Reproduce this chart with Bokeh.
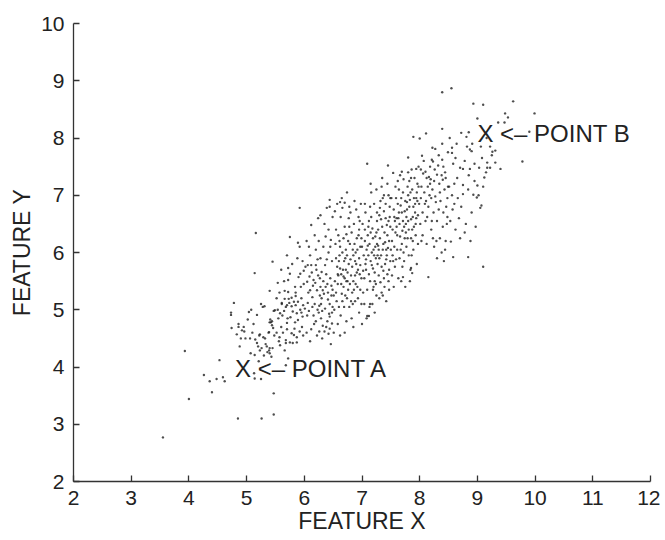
from bokeh.plotting import figure
from bokeh.models import Range1d, FixedTicker
from bokeh.embed import file_html
from bokeh.resources import INLINE
from bokeh.core.properties import value

# ---- data ----
tail_pts = [(3.55,2.77),(3.93,4.28),(4.00,3.44),(4.26,3.86),(4.36,3.75),(4.40,3.56),(4.48,3.79),
            (4.59,3.82),(4.62,3.75),(4.53,4.12)]

band_45 = [(4.73,4.91),(4.78,5.12),(4.74,4.68),(4.86,4.75),(4.92,4.64),(4.83,4.57),(4.88,4.36),
           (4.85,3.10),(4.73,4.95),(4.86,4.70),(4.95,4.70),(4.90,4.50),(4.96,4.62),(4.98,4.50)]

band_50 = [(5.04,4.96),(5.18,4.91),(5.06,4.50),(5.07,4.24),(5.14,4.21),(5.21,4.10),(5.13,3.89),
           (5.14,3.80),(5.25,3.79),(5.18,4.42),(5.23,4.57),(5.32,4.50),(5.39,4.61),(5.23,4.29),
           (5.39,4.29),(5.45,4.33),(5.40,4.24),(5.40,4.78),(5.44,4.73),(5.28,5.05),(5.25,5.10),
           (5.31,5.06),(5.49,4.99),(5.26,3.10),(5.47,3.17),(5.47,3.54),(5.14,5.64),(5.16,6.34),
           (5.45,5.84),(5.40,5.33),(5.47,4.98),(5.42,4.78),(5.44,4.80),(5.41,4.83),(5.38,4.60),
           (5.22,4.55),(5.29,4.52),(5.20,4.36),(5.33,4.40),(5.36,4.26),(5.10,4.60),(5.12,4.75),
           (5.02,4.83),(5.08,5.00),(5.30,4.20),(5.43,4.18),(5.35,4.36),(5.48,4.55),(5.46,4.68),
           (5.15,4.48),(5.26,4.33),(5.40,4.33)]

band_55 = [(5.58,4.94),(5.61,5.10),(5.70,5.08),(5.78,5.06),(5.85,5.08),(5.87,4.94),(5.89,5.14),
           (5.98,5.08),(5.66,4.29),(5.58,4.38),(5.68,4.42),(5.75,4.43),(5.80,4.42),(5.87,4.43),
           (5.68,4.47),(5.78,4.59),(5.82,4.56),(5.87,4.52),(5.70,4.66),(5.96,4.70),(5.70,4.77),
           (5.84,4.78),(5.89,4.82),(5.72,4.15),(5.68,4.03),(5.54,5.47),(5.65,5.50),(5.72,5.52),
           (5.61,5.12),(5.57,5.30),(5.66,5.33),(5.72,5.31),(5.66,5.19),(5.73,5.19),(5.78,5.21),
           (5.74,5.12),(5.68,5.05),(5.82,5.14),(5.85,5.24),(5.84,5.40),(5.94,5.40),(5.99,5.45),
           (5.93,5.63),(5.99,5.68),(5.75,5.63),(5.90,5.57),(5.75,6.27),(5.89,6.17),(5.92,6.10),
           (5.92,6.78),(5.55,4.85),(5.62,4.90),(5.60,4.70),(5.52,4.60),(5.57,4.52),(5.95,4.95),
           (5.97,4.88),(5.93,5.00),(5.80,4.97),(5.65,4.98),(5.54,5.00),(5.76,4.87),(5.83,4.67),
           (5.92,4.62),(5.98,4.55),(5.56,4.45),(5.63,4.60),(5.71,4.85),(5.85,5.30),(5.95,5.20),
           (5.60,5.70),(5.79,5.80),(5.88,5.90),(5.70,5.95),(5.97,5.85),(5.52,5.20),(5.72,5.73)]

band_60 = [(6.02,5.75),(6.06,5.78),(6.12,5.78),(6.20,5.78),(6.05,5.49),(6.10,5.34),(6.22,5.34),
           (6.16,5.52),(6.28,5.40),(6.32,5.34),(6.40,5.45),(6.37,5.40),(6.30,5.20),(6.18,5.10),
           (6.06,5.12),(6.08,4.98),(6.16,4.90),(6.25,4.95),(6.26,5.07),(6.36,5.02),(6.43,4.93),
           (6.40,4.80),(6.48,4.76),(6.32,4.72),(6.20,4.80),(6.12,4.66),(6.04,4.60),(6.22,4.55),
           (6.35,4.62),(6.42,4.58),(6.05,4.90),(6.14,5.22),(6.44,5.10),(6.47,5.25),(6.38,5.62),
           (6.45,5.55),(6.30,5.66),(6.24,5.60),(6.10,5.95),(6.20,6.05),(6.28,5.90),(6.33,6.10),
           (6.42,6.00),(6.48,5.85),(6.35,6.50),(6.18,6.30),(6.42,6.40),(6.46,6.22),(6.12,6.48),
           (6.24,6.60),(6.44,6.92),(6.44,6.80),(6.28,6.65),(6.39,6.78),(6.49,6.62),(6.04,6.20),
           (6.09,5.58),(6.27,5.25),(6.34,5.28),(6.15,5.42),(6.44,4.88),(6.29,4.85),(6.41,5.18),
           (6.49,5.05),(6.38,4.70),(6.10,4.45),(6.31,4.50),(6.46,4.40),(6.23,5.00),(6.47,5.42),
           (6.36,5.78),(6.13,5.65),(6.19,5.47),(6.27,5.55),(6.39,5.88),(6.45,6.10),(6.33,5.50),
           (6.21,5.70),(6.07,5.30),(6.25,6.20),(6.41,5.30),(6.08,6.10),(6.37,6.28),(6.48,4.95),
           (6.31,4.98),(6.01,5.02),(6.17,4.75),(6.26,4.62),(6.44,4.67),(6.49,5.35),(6.29,5.10),
           (6.14,5.05),(6.23,5.88)]

band_65 = [(6.52,5.00),(6.55,5.30),(6.58,5.62),(6.60,5.85),(6.62,6.10),(6.55,6.40),(6.58,4.75),
           (6.63,4.90),(6.66,5.15),(6.68,5.40),(6.70,5.55),(6.72,5.70),(6.74,5.95),(6.76,6.20),
           (6.78,6.45),(6.80,6.70),(6.65,6.95),(6.70,4.60),(6.82,4.85),(6.84,5.10),(6.86,5.35),
           (6.88,5.60),(6.90,5.80),(6.92,6.05),(6.94,6.30),(6.96,6.55),(6.98,6.85),(6.53,5.50),
           (6.57,5.75),(6.61,5.95),(6.64,5.45),(6.67,5.70),(6.69,5.85),(6.71,5.25),(6.73,5.50),
           (6.75,5.65),(6.77,5.80),(6.79,5.45),(6.81,5.60),(6.83,5.75),(6.85,5.95),(6.87,6.15),
           (6.89,5.45),(6.91,5.65),(6.93,5.20),(6.95,5.90),(6.97,6.10),(6.99,5.55),(6.54,6.15),
           (6.59,6.30),(6.63,6.62),(6.68,6.25),(6.72,6.05),(6.77,6.60),(6.82,6.35),(6.86,6.50),
           (6.91,6.25),(6.95,6.40),(6.56,5.15),(6.60,5.05),(6.65,5.28),(6.69,5.05),(6.74,5.20),
           (6.78,5.05),(6.83,5.30),(6.88,5.15),(6.92,5.40),(6.97,5.35),(6.51,4.60),(6.62,4.55),
           (6.73,4.80),(6.85,4.70),(6.95,4.95),(6.99,5.10),(6.57,6.85),(6.74,7.05),(6.87,6.90),
           (6.66,6.78),(6.53,6.72),(6.84,6.05),(6.80,5.88),(6.71,5.90),(6.64,5.62),(6.58,5.45),
           (6.93,5.70),(6.97,5.78),(6.89,6.00),(6.79,6.15),(6.70,6.45),(6.61,6.20),(6.76,5.35),
           (6.68,5.58),(6.85,5.50),(6.94,6.62),(6.90,6.75),(6.55,5.90),(6.81,5.15),(6.99,6.25),
           (6.62,5.72),(6.75,5.50),(6.96,5.62),(6.88,5.85),(6.73,6.32),(6.66,6.00),(6.51,5.25),
           (6.59,5.60),(7.00,4.75),(6.70,6.87),(6.78,6.80),(6.62,6.88)]

band_70 = [(7.02,5.30),(7.04,5.55),(7.06,5.80),(7.08,6.05),(7.10,6.30),(7.12,6.55),(7.14,6.80),
           (7.16,7.05),(7.09,7.55),(7.18,5.10),(7.20,5.40),(7.22,5.65),(7.24,5.90),(7.26,6.15),
           (7.28,6.40),(7.30,6.65),(7.32,6.90),(7.34,7.15),(7.36,5.25),(7.38,5.55),(7.40,5.80),
           (7.42,6.05),(7.44,6.30),(7.46,6.55),(7.48,6.80),(7.45,7.52),(7.03,5.95),(7.05,6.20),
           (7.07,5.70),(7.11,5.95),(7.13,6.15),(7.15,5.85),(7.17,6.00),(7.19,6.25),(7.21,5.95),
           (7.23,6.10),(7.25,6.35),(7.27,5.80),(7.29,6.05),(7.31,6.25),(7.33,5.95),(7.35,6.45),
           (7.37,6.15),(7.39,6.35),(7.41,6.60),(7.43,5.95),(7.47,6.20),(7.49,6.45),(7.01,6.50),
           (7.06,6.70),(7.11,6.45),(7.16,6.62),(7.21,6.85),(7.26,6.55),(7.31,6.78),(7.36,6.95),
           (7.41,6.85),(7.46,7.00),(7.04,5.10),(7.09,5.35),(7.14,5.50),(7.19,5.72),(7.24,5.45),
           (7.29,5.60),(7.34,5.75),(7.39,5.40),(7.44,5.62),(7.49,5.85),(7.08,4.85),(7.13,5.05),
           (7.22,4.95),(7.30,5.20),(7.42,5.15),(7.47,5.35),(7.12,4.89),(7.18,6.42),(7.23,6.28),
           (7.28,6.12),(7.33,6.58),(7.38,6.72),(7.43,6.48),(7.48,6.62),(7.02,5.68),(7.07,5.88),
           (7.12,5.62),(7.17,5.78),(7.22,5.50),(7.27,5.95),(7.32,5.48),(7.37,5.68),(7.42,5.88),
           (7.47,5.70),(7.05,6.85),(7.15,7.20),(7.25,7.10),(7.35,7.30),(7.44,7.20),(7.20,6.05),
           (7.10,6.12),(7.40,6.18),(7.30,5.90),(7.45,6.08),(7.26,6.70),(7.36,6.05),(7.15,6.35),
           (7.05,6.40),(7.46,5.50),(7.34,5.30),(7.25,5.25),(7.19,5.35),(7.00,6.10),(7.38,7.00),
           (7.49,6.95),(7.09,4.89),(7.14,5.10)]

band_75 = [(7.52,5.60),(7.54,5.85),(7.56,6.10),(7.58,6.35),(7.60,6.60),(7.62,6.85),(7.64,7.10),
           (7.66,7.35),(7.54,7.39),(7.69,7.41),(7.68,5.50),(7.70,5.75),(7.72,6.00),(7.74,6.25),
           (7.76,6.50),(7.78,6.75),(7.80,7.00),(7.82,7.25),(7.80,7.66),(7.84,5.70),(7.86,5.95),
           (7.88,6.20),(7.90,6.45),(7.92,6.70),(7.94,6.95),(7.96,7.20),(7.89,8.02),(7.94,7.46),
           (7.71,5.57),(7.85,5.73),(7.87,5.64),(7.53,6.40),(7.57,6.55),(7.61,6.30),(7.65,6.50),
           (7.69,6.70),(7.73,6.45),(7.77,6.62),(7.81,6.40),(7.85,6.58),(7.89,6.80),(7.93,6.50),
           (7.97,6.65),(7.55,6.75),(7.59,6.95),(7.63,6.60),(7.67,6.82),(7.71,7.05),(7.75,6.90),
           (7.79,7.15),(7.83,6.92),(7.87,7.10),(7.91,7.30),(7.95,7.05),(7.99,6.85),(7.51,6.95),
           (7.58,7.15),(7.62,7.25),(7.72,7.28),(7.86,7.45),(7.98,7.50),(7.53,5.95),(7.57,5.75),
           (7.61,6.05),(7.65,5.90),(7.69,6.15),(7.73,5.85),(7.77,6.10),(7.81,5.95),(7.85,6.25),
           (7.89,6.05),(7.93,6.30),(7.97,6.15),(7.55,5.40),(7.63,5.55),(7.75,5.40),(7.83,5.50),
           (7.95,5.80),(7.60,6.45),(7.66,6.28),(7.74,6.72),(7.80,6.55),(7.88,6.62),(7.96,6.90),
           (7.52,6.20),(7.64,6.70),(7.70,6.38),(7.78,6.88),(7.84,7.05),(7.92,6.85),(7.56,6.62),
           (7.68,6.95),(7.76,6.35),(7.90,6.95),(7.98,7.15),(7.50,6.05),(7.59,5.88),(7.67,6.05),
           (7.79,6.25),(7.87,6.40),(7.94,6.60),(7.71,6.55),(7.82,6.80),(7.80,7.40),(7.85,7.30)]

band_80 = [(8.00,7.99),(8.11,8.08),(8.22,7.83),(8.27,7.81),(8.04,7.69),(8.23,7.59),(8.39,7.62),
           (8.32,7.52),(8.41,7.50),(8.10,7.41),(8.12,7.30),(8.16,7.32),(8.19,7.28),(8.30,7.36),
           (8.40,7.27),(8.45,7.30),(8.25,7.25),(8.18,7.20),(8.22,7.10),(8.02,7.45),(8.06,7.38),
           (8.14,7.15),(8.03,7.15),(8.08,7.05),(8.20,6.95),(8.28,6.88),(8.35,7.05),(8.43,7.10),
           (8.48,6.95),(8.39,8.16),(8.39,7.90),(8.15,6.80),(8.05,6.70),(8.24,6.70),(8.33,6.75),
           (8.46,6.80),(8.15,5.57),(8.10,6.55),(8.30,6.55),(8.40,6.45),(8.48,6.62),(8.20,6.40),
           (8.05,6.30),(8.35,6.25),(8.45,6.20),(8.25,6.10),(8.12,6.15),(8.42,5.85),(8.38,6.00),
           (8.30,5.90),(8.02,6.95),(8.09,6.85),(8.17,7.00),(8.26,7.45),(8.34,7.20),(8.44,7.40),
           (8.49,7.15),(8.07,7.60),(8.36,6.90),(8.13,6.62),(8.21,6.55),(8.29,6.20),(8.47,6.50),
           (8.01,6.50),(8.33,7.70),(8.18,7.50),(8.27,6.98),(8.41,6.70),(8.03,6.20),(8.49,7.75),
           (8.23,6.25),(8.44,6.05),(8.11,6.90),(8.38,7.35),(8.21,7.62)]

band_85 = [(8.55,8.87),(8.39,8.80),(8.72,8.09),(8.81,8.02),(8.93,8.60),(8.56,7.83),(8.56,7.74),
           (8.82,7.85),(8.87,7.80),(8.90,7.77),(8.70,7.48),(8.75,7.46),(8.87,7.46),(8.51,7.15),
           (8.75,7.18),(8.84,7.10),(8.93,7.01),(8.99,6.96),(8.75,7.02),(8.56,7.00),(8.58,5.92),
           (8.54,6.19),(8.84,5.92),(8.62,6.40),(8.68,6.60),(8.72,6.80),(8.60,6.85),(8.80,6.50),
           (8.90,6.70),(8.65,7.30),(8.95,7.25),(8.58,7.55),(8.62,7.65),(8.78,7.60),(8.85,7.35),
           (8.95,7.55),(8.66,6.95),(8.53,6.55),(8.97,6.45),(8.88,6.20),(8.70,6.25),(8.60,7.20),
           (8.85,8.10),(8.52,8.00),(8.64,7.90),(8.91,7.90),(8.78,6.35),(8.57,6.75)]

band_90 = [(9.00,8.34),(9.10,8.58),(9.36,8.27),(9.47,8.27),(9.48,8.43),(9.53,8.36),(9.62,8.64),
           (9.99,8.43),(9.90,8.11),(9.78,7.59),(9.22,7.85),(9.31,7.78),(9.26,7.76),(9.17,7.57),
           (9.22,7.48),(9.31,7.57),(9.40,7.46),(9.17,7.48),(9.12,7.31),(9.00,7.17),(9.05,6.78),
           (9.07,6.82),(9.02,7.00),(9.10,7.15),(9.15,7.40),(9.03,7.48),(9.08,7.65),(9.10,5.75),
           (9.25,7.70),(9.06,7.85),(9.16,8.00)]

x_ticks = [2, 3, 4, 5, 6, 7, 8, 9, 10, 11, 12]
y_ticks = [2, 3, 4, 5, 6, 7, 8, 9, 10]
ann_text = ["X <\u2013 POINT A", "X <\u2013 POINT B"]
ann_x = [4.80, 9.00]
ann_y = [3.97, 8.07]

all_pts = (tail_pts + band_45 + band_50 + band_55 + band_60 + band_65 +
           band_70 + band_75 + band_80 + band_85 + band_90)
xs = [p[0] for p in all_pts]
ys = [p[1] for p in all_pts]

FONT = "Liberation Sans"

p = figure(width=660, height=536, output_backend="svg", toolbar_location=None,
           x_range=Range1d(2, 12), y_range=Range1d(2, 10),
           min_border_left=73, min_border_top=23, min_border_right=10, min_border_bottom=55)
p.outline_line_color = None
p.grid.visible = False
p.background_fill_color = "white"
p.border_fill_color = "white"

p.scatter(xs, ys, size=2.4, marker="circle", fill_color="#222222", line_color=None, fill_alpha=0.8)

p.text(x=ann_x, y=ann_y, text=ann_text, text_font=value(FONT), text_font_size="24px",
       text_color="#222222", text_align="left", text_baseline="alphabetic")

for ax, ticks, lab in ((p.xaxis[0], x_ticks, "FEATURE X"), (p.yaxis[0], y_ticks, "FEATURE Y")):
    ax.ticker = FixedTicker(ticks=ticks)
    ax.axis_label = lab
    ax.axis_label_text_font = FONT
    ax.axis_label_text_font_size = "23px"
    ax.axis_label_text_font_style = "normal"
    ax.axis_label_text_color = "#222222"
    ax.major_label_text_font = FONT
    ax.major_label_text_font_size = "21px"
    ax.major_label_text_color = "#222222"
    ax.axis_line_color = "#333333"
    ax.axis_line_width = 1.3
    ax.major_tick_line_color = "#333333"
    ax.major_tick_line_width = 1.3
    ax.major_tick_in = 6
    ax.major_tick_out = 0
    ax.minor_tick_line_color = None

p.xaxis[0].major_label_standoff = 9
p.yaxis[0].major_label_standoff = 9
p.yaxis[0].axis_label_standoff = 3
p.xaxis[0].axis_label_standoff = 0

open("out.html", "w").write(file_html(p, INLINE))
